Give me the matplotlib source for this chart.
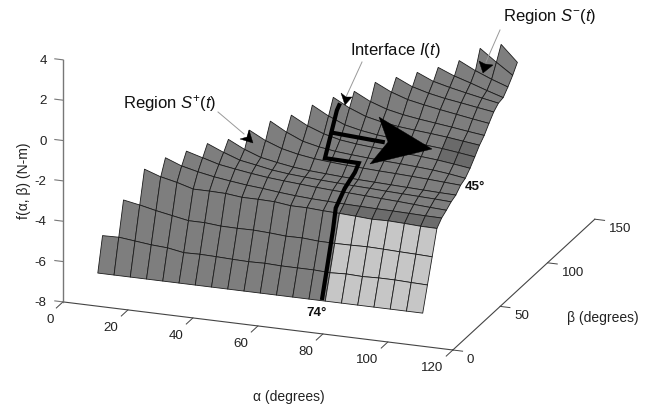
import matplotlib
matplotlib.use("Agg")
import matplotlib.pyplot as plt
from matplotlib.patches import Polygon
from mpl_toolkits.mplot3d.art3d import Poly3DCollection

plt.rcParams['font.family'] = ['Liberation Sans', 'DejaVu Sans']
plt.rcParams['mathtext.fontset'] = 'custom'
plt.rcParams['mathtext.rm'] = 'Liberation Sans'
plt.rcParams['mathtext.it'] = 'Liberation Sans:italic'

# grid of the surface, one row of f values per beta, each row starts one step later
alpha_grid = [10, 15, 20, 25, 30, 35, 40, 45, 50, 55, 60, 65, 70, 75, 80, 85, 90, 95, 100, 105, 110]
beta_grid = [2.5, 7.5, 12.5, 17.5, 22.5, 27.5, 32.5, 37.5, 42.5, 47.5, 52.5, 57.5, 62.5, 67.5, 72.5, 77.5, 82.5,
             87.5, 92.5, 97.5, 102.5]
f_rows = [
    [-6.48, -6.48, -6.48, -6.48, -6.48, -6.48, -6.48, -6.48, -6.48, -6.48, -6.48, -6.48, -6.48, -6.48, -6.48, -6.48,
     -6.48, -6.48, -6.48, -6.48, -6.48],
    [-4.84, -4.82, -4.91, -5.0, -5.05, -5.19, -5.17, -5.19, -5.22, -5.24, -5.22, -5.25, -5.25, -5.25, -5.29, -5.25,
     -5.28, -5.25, -5.25, -5.28, -5.3],
    [-3.19, -3.34, -3.52, -3.67, -3.82, -3.82, -3.89, -3.9, -3.89, -3.93, -3.99, -3.98, -4.04, -4.05, -4.04, -4.02,
     -4.04, -4.07, -4.09, -4.12],
    [-1.78, -2.06, -2.24, -2.47, -2.47, -2.49, -2.58, -2.58, -2.6, -2.7, -2.7, -2.75, -2.78, -2.82, -2.87, -2.85,
     -2.88, -2.92, -2.93],
    [-1.33, -1.64, -1.83, -1.98, -2.09, -2.19, -2.26, -2.35, -2.42, -2.47, -2.5, -2.53, -2.55, -2.57, -2.58, -2.6,
     -2.62, -2.63],
    [-1.12, -1.35, -1.58, -1.71, -1.83, -1.93, -2.0, -2.06, -2.12, -2.17, -2.2, -2.24, -2.28, -2.32, -2.37, -2.42,
     -2.46],
    [-0.86, -1.2, -1.49, -1.63, -1.78, -1.87, -1.93, -1.98, -2.02, -2.06, -2.09, -2.13, -2.16, -2.19, -2.22, -2.26],
    [-0.77, -1.17, -1.47, -1.62, -1.75, -1.83, -1.88, -1.93, -1.97, -2.0, -2.03, -2.06, -2.09, -2.12, -2.14],
    [-0.43, -0.85, -1.15, -1.33, -1.45, -1.52, -1.58, -1.62, -1.66, -1.69, -1.73, -1.77, -1.82, -1.87],
    [-0.1, -0.55, -0.9, -1.08, -1.2, -1.27, -1.33, -1.38, -1.42, -1.47, -1.53, -1.62, -1.74],
    [0.08, -0.35, -0.65, -0.85, -0.95, -1.02, -1.07, -1.12, -1.18, -1.25, -1.35, -1.46],
    [0.46, 0.02, -0.32, -0.5, -0.62, -0.7, -0.76, -0.83, -0.9, -1.0, -1.11],
    [0.73, 0.3, -0.02, -0.2, -0.32, -0.4, -0.47, -0.55, -0.65, -0.75],
    [0.91, 0.5, 0.22, 0.05, -0.07, -0.17, -0.27, -0.38, -0.48],
    [1.24, 0.85, 0.58, 0.42, 0.28, 0.15, 0.02, -0.1],
    [1.37, 1.0, 0.78, 0.62, 0.5, 0.37, 0.25],
    [1.5, 1.15, 0.95, 0.78, 0.62, 0.47],
    [1.63, 1.3, 1.05, 0.78, 0.53],
    [1.85, 1.45, 1.12, 0.84],
    [2.34, 1.75, 1.2],
    [2.42, 1.63],
]

# the thick interface curve and its branch towards the arrow
interface_alpha = [79, 78.6, 78, 77.4, 77.3, 77.5, 77.2, 66.8, 66.1, 65.6]
interface_beta = [2.4, 10, 17.5, 22.5, 32.5, 42.5, 47.5, 47.5, 62.5, 67.5]
interface_f = [-6.44, -4.95, -3.65, -2.78, -2.23, -1.87, -1.64, -1.6, 0.11, 0.23]
branch_alpha = [65.7, 82.3]
branch_beta = [57.5, 57.5]
branch_f = [-0.78, -0.94]

alpha_ticks = [0, 20, 40, 60, 80, 100, 120]
beta_ticks = [0, 50, 100, 150]
f_ticks = [-8, -6, -4, -2, 0, 2, 4]


def f_at(a, b):
    return f_rows[b][a - max(b - 1, 0)]


quads = []
colors = []
for b in range(len(beta_grid) - 1):
    for a in range(b, len(alpha_grid) - 1):
        quads.append([
            (alpha_grid[a], beta_grid[b], f_at(a, b)),
            (alpha_grid[a + 1], beta_grid[b], f_at(a + 1, b)),
            (alpha_grid[a + 1], beta_grid[b + 1], f_at(a + 1, b + 1)),
            (alpha_grid[a], beta_grid[b + 1], f_at(a, b + 1)),
        ])
        if a >= 14 and b < 3:
            colors.append('#c6c6c6')
        elif a >= 14 and b == 3:
            colors.append('#6c6c6c')
        elif a >= 18 and b in (10, 11):
            colors.append('#6a6a6a')
        else:
            colors.append('#7e7e7e')

fig = plt.figure(figsize=(6.54, 4.08), dpi=100)
ax = fig.add_axes([10 / 654, -50.4 / 408, 621 / 654, 621 / 408], projection='3d', proj_type='ortho')
ax.view_init(elev=19.7, azim=-69.9)
ax.set_box_aspect((415, 413, 257))
ax.set_xlim(0, 120)
ax.set_ylim(0, 150)
ax.set_zlim(-8, 4)
ax.set_xticks([])
ax.set_yticks([])
ax.set_zticks([])
ax.set_axis_off()
ax.computed_zorder = False

surface = Poly3DCollection(quads, facecolors=colors, edgecolors='#1c1c1c', linewidths=0.6, zorder=2)
ax.add_collection3d(surface)

ax.plot(interface_alpha, interface_beta, interface_f, color='black', lw=3, zorder=5, solid_joinstyle='miter',
        solid_capstyle='butt')
ax.plot(branch_alpha, branch_beta, branch_f, color='black', lw=3, zorder=5, solid_capstyle='butt')

# box edges and ticks
axis_color = '#444444'
ax.plot([0, 120], [0, 0], [-8, -8], color=axis_color, lw=0.8, zorder=1)
ax.plot([120, 120], [0, 150], [-8, -8], color=axis_color, lw=0.8, zorder=1)
ax.plot([0, 0], [0, 0], [-8, 4], color='#777777', lw=1.0, zorder=1)

for t in alpha_ticks:
    ax.plot([t, t], [0, -7], [-8, -8], color=axis_color, lw=0.7, zorder=1)
    ax.text(t, -10, -8.46, str(t), ha='right', va='center', fontsize=9.6, color='#222222')
for t in beta_ticks:
    ax.plot([120, 123], [t, t], [-8, -8], color=axis_color, lw=0.7, zorder=1)
    ax.text(124.3, t, -8.41, str(t), ha='left', va='center', fontsize=9.6, color='#222222')
for t in f_ticks:
    ax.plot([0, -2.5], [0, 0], [t, t], color='#777777', lw=0.8, zorder=1)
    ax.text(-5, 0, t - 0.15, str(t), ha='right', va='center', fontsize=9.6, color='#222222')

# overlay in picture pixels for the labels and call-outs
over = fig.add_axes([0, 0, 1, 1])
over.set_xlim(0, 654)
over.set_ylim(408, 0)
over.set_xticks([])
over.set_yticks([])
over.set_axis_off()
over.patch.set_alpha(0)

over.text(289, 397, 'α (degrees)', ha='center', va='center', fontsize=10, color='#222222')
over.text(603, 318, 'β (degrees)', ha='center', va='center', fontsize=10, color='#222222')
over.text(24, 181, 'f(α, β) (N-m)', ha='center', va='center', rotation=90, fontsize=10, color='#222222')

over.text(123, 103, r'Region $\mathit{S^{+}(t)}$', ha='left', va='center', fontsize=12, color='#111111')
over.text(350, 50, r'Interface $\mathit{I(t)}$', ha='left', va='center', fontsize=12, color='#111111')
over.text(503, 16, r'Region $\mathit{S^{-}(t)}$', ha='left', va='center', fontsize=12, color='#111111')
over.text(317, 313, '74°', ha='center', va='center', fontsize=9.6, fontweight='bold', color='#111111')
over.text(475, 187, '45°', ha='center', va='center', fontsize=9.6, fontweight='bold', color='#111111')

# leaders
for xs, ys in [([218, 244], [112, 134]), ([362, 346], [62, 97]), ([500, 486], [30, 62])]:
    over.plot(xs, ys, color='#999999', lw=0.7, zorder=3)
heads = [
    [(253, 143), (249, 130), (247, 137), (240, 139)],
    [(345, 105), (352, 97), (346, 97), (341, 93)],
    [(483, 73), (493, 65), (485, 64), (479, 61)],
]
for head in heads:
    over.add_patch(Polygon(head, closed=True, facecolor='black', edgecolor='black', lw=0.3, zorder=4))

# the big direction arrow
over.add_patch(Polygon([(432, 149), (379, 117), (388, 142), (370, 164)], closed=True, facecolor='black',
                       edgecolor='black', lw=0.3, zorder=4))

fig.savefig('out.png', dpi=100)
